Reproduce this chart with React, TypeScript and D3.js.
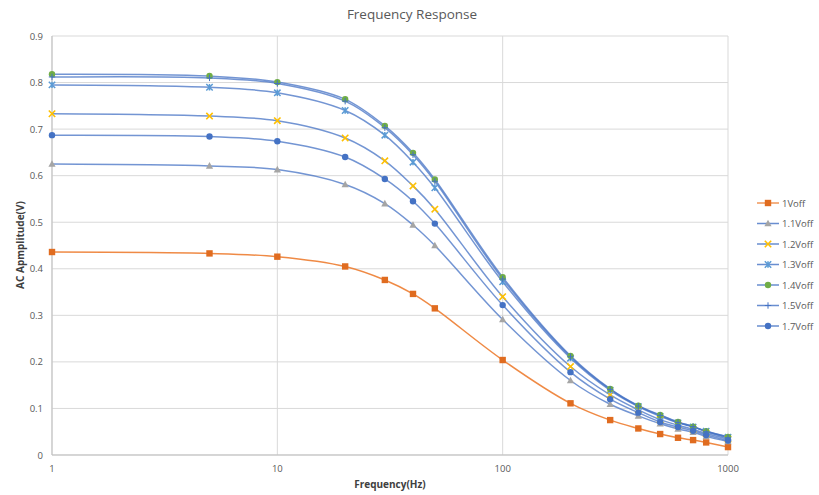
import React from "react";
import * as d3 from "d3";

const W = 819;
const H = 495;

const frequencies = [1, 5, 10, 20, 30, 40, 50, 100, 200, 300, 400, 500, 600, 700, 800, 1000];

const seriesNames = ["1Voff", "1.1Voff", "1.2Voff", "1.3Voff", "1.4Voff", "1.5Voff", "1.7Voff"];

const v1_0 = [0.436, 0.433, 0.426, 0.405, 0.376, 0.346, 0.315, 0.204, 0.111, 0.075, 0.057, 0.045, 0.037, 0.032, 0.027, 0.017];
const v1_1 = [0.625, 0.621, 0.613, 0.581, 0.540, 0.494, 0.450, 0.291, 0.160, 0.109, 0.084, 0.067, 0.056, 0.049, 0.040, 0.029];
const v1_2 = [0.733, 0.728, 0.718, 0.681, 0.632, 0.578, 0.528, 0.340, 0.190, 0.129, 0.097, 0.076, 0.064, 0.055, 0.046, 0.034];
const v1_3 = [0.795, 0.790, 0.778, 0.740, 0.687, 0.629, 0.574, 0.372, 0.208, 0.139, 0.104, 0.083, 0.069, 0.060, 0.051, 0.038];
const v1_4 = [0.818, 0.814, 0.801, 0.764, 0.707, 0.649, 0.592, 0.382, 0.213, 0.142, 0.106, 0.086, 0.071, 0.061, 0.051, 0.039];
const v1_5 = [0.812, 0.810, 0.798, 0.760, 0.703, 0.645, 0.588, 0.378, 0.211, 0.141, 0.105, 0.085, 0.070, 0.061, 0.050, 0.037];
const v1_7 = [0.687, 0.684, 0.674, 0.640, 0.593, 0.545, 0.497, 0.322, 0.178, 0.120, 0.091, 0.071, 0.060, 0.052, 0.043, 0.031];

const seriesValues = [v1_0, v1_1, v1_2, v1_3, v1_4, v1_5, v1_7];

const lineColors = ["#ED7D31", "#4472C4", "#4472C4", "#4472C4", "#4472C4", "#4472C4", "#4472C4"];
const markerColors = ["#E06C20", "#A5A5A5", "#FFC000", "#5B9BD5", "#70AD47", "#4472C4", "#4472C4"];
const markerShapes = ["square", "triangle", "x", "asterisk", "circle", "plus", "circle"];

const yTicks = [0, 0.1, 0.2, 0.3, 0.4, 0.5, 0.6, 0.7, 0.8, 0.9];
const xTicks = [1, 10, 100, 1000];

const margin = { left: 52, right: 90, top: 36, bottom: 40 };
const plotRight = 728;
const plotBottom = 455;

const x = d3.scaleLog().domain([1, 1000]).range([margin.left, plotRight]);
const y = d3.scaleLinear().domain([0, 0.9]).range([plotBottom, margin.top]);

const font = "'Open Sans', 'Noto Sans', sans-serif";
const textGray = "#595959";

function Marker({ shape, cx, cy, color }: { shape: string; cx: number; cy: number; color: string }) {
  const s = 3.2;
  switch (shape) {
    case "square":
      return <rect x={cx - s} y={cy - s} width={2 * s} height={2 * s} fill={color} />;
    case "triangle":
      return (
        <path
          d={`M${cx},${cy - s - 0.6}L${cx + s + 0.4},${cy + s - 0.4}L${cx - s - 0.4},${cy + s - 0.4}Z`}
          fill={color}
        />
      );
    case "x":
      return (
        <path
          d={`M${cx - s},${cy - s}L${cx + s},${cy + s}M${cx + s},${cy - s}L${cx - s},${cy + s}`}
          stroke={color}
          strokeWidth={1.6}
        />
      );
    case "asterisk":
      return (
        <path
          d={`M${cx - s},${cy - s}L${cx + s},${cy + s}M${cx + s},${cy - s}L${cx - s},${cy + s}M${cx},${cy - s}L${cx},${cy + s}`}
          stroke={color}
          strokeWidth={1.5}
        />
      );
    case "circle":
      return <circle cx={cx} cy={cy} r={s} fill={color} />;
    case "plus":
      return (
        <path
          d={`M${cx},${cy - s}L${cx},${cy + s}M${cx - s},${cy}L${cx + s},${cy}`}
          stroke={color}
          strokeWidth={1}
        />
      );
    default:
      return null;
  }
}

export default function App() {
  const line = d3
    .line<number>()
    .x((_, i) => x(frequencies[i]))
    .y((d) => y(d))
    .curve(d3.curveCatmullRom.alpha(0.5));

  const legendX = 757;
  const legendY0 = 203;
  const legendStep = 20.5;

  return (
    <svg
      width={W}
      height={H}
      viewBox={`0 0 ${W} ${H}`}
      style={{ position: "absolute", left: 0, top: 0, background: "#fff", fontFamily: font }}
    >
      <rect x={0} y={0} width={W} height={H} fill="#fff" />
      <text x={412} y={19} textAnchor="middle" fontSize={13.5} fill={textGray}>
        Frequency Response
      </text>

      {/* horizontal gridlines */}
      {yTicks.map((t) => (
        <line key={`gy${t}`} x1={margin.left} x2={plotRight} y1={y(t)} y2={y(t)} stroke="#D9D9D9" strokeWidth={1} />
      ))}
      {/* vertical gridlines at decades */}
      {xTicks.map((t) => (
        <line key={`gx${t}`} x1={x(t)} x2={x(t)} y1={margin.top} y2={plotBottom} stroke="#D9D9D9" strokeWidth={1} />
      ))}
      {/* axis lines */}
      <line x1={margin.left} x2={margin.left} y1={margin.top} y2={plotBottom} stroke="#BFBFBF" />
      <line x1={margin.left} x2={plotRight} y1={plotBottom} y2={plotBottom} stroke="#BFBFBF" />

      {yTicks.map((t) => (
        <text key={`ty${t}`} x={43} y={y(t) + 3.5} textAnchor="end" fontSize={9.5} fill={textGray}>
          {t === 0 ? "0" : d3.format(".1f")(t)}
        </text>
      ))}
      {xTicks.map((t) => (
        <text key={`tx${t}`} x={x(t)} y={472} textAnchor="middle" fontSize={9.5} fill={textGray}>
          {t}
        </text>
      ))}

      <text x={390} y={488} textAnchor="middle" fontSize={10} fontWeight="bold" fill="#404040">
        Frequency(Hz)
      </text>
      <text
        transform={`translate(24, 245) rotate(-90)`}
        textAnchor="middle"
        fontSize={10}
        fontWeight="bold"
        fill="#404040"
      >
        AC Apmplitude(V)
      </text>

      {/* series lines */}
      {seriesValues.map((vals, si) => (
        <path
          key={`l${si}`}
          d={line(vals) || ""}
          fill="none"
          stroke={lineColors[si]}
          strokeOpacity={si === 0 ? 0.9 : 0.75}
          strokeWidth={1.5}
        />
      ))}

      {/* series markers */}
      {seriesValues.map((vals, si) => (
        <g key={`m${si}`}>
          {vals.map((v, i) => (
            <Marker key={i} shape={markerShapes[si]} cx={x(frequencies[i])} cy={y(v)} color={markerColors[si]} />
          ))}
        </g>
      ))}

      {/* legend */}
      {seriesNames.map((name, si) => {
        const ly = legendY0 + si * legendStep;
        return (
          <g key={`lg${si}`}>
            <line x1={legendX} x2={legendX + 22} y1={ly} y2={ly} stroke={lineColors[si]} strokeOpacity={0.8} strokeWidth={1.5} />
            <Marker shape={markerShapes[si]} cx={legendX + 11} cy={ly} color={markerColors[si]} />
            <text x={legendX + 25} y={ly + 3.5} fontSize={9.5} fill={textGray}>
              {name}
            </text>
          </g>
        );
      })}
    </svg>
  );
}
